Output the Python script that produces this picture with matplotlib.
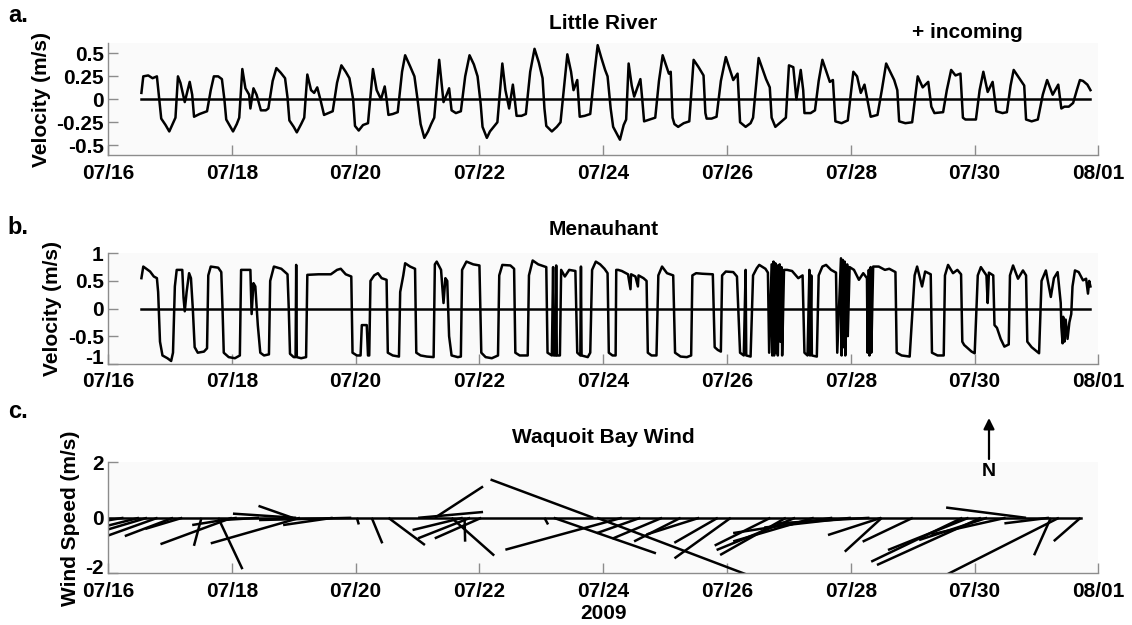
import matplotlib
matplotlib.use('Agg')
import matplotlib.pyplot as plt
import matplotlib.dates as mdates
import matplotlib.transforms as mtransforms
import numpy as np
import pandas as pd

plt.rcParams['font.family'] = ['Liberation Sans', 'DejaVu Sans']
plt.rcParams['font.weight'] = 'bold'
plt.rcParams['axes.unicode_minus'] = False

start = pd.Timestamp('2009-07-16')
tick_labels = ['07/16', '07/18', '07/20', '07/22', '07/24', '07/26', '07/28', '07/30', '08/01']

# Little River velocity (days since 07/16 00:00, m/s)
lr_day = [0.54, 0.57, 0.65, 0.72, 0.79, 0.82, 0.86, 0.93, 0.99, 1.05, 1.09, 1.13, 1.17, 1.24, 1.32, 1.36,
          1.39, 1.48, 1.60, 1.66, 1.71, 1.78, 1.84, 1.88, 1.91, 1.96, 2.02, 2.08, 2.12, 2.17, 2.22, 2.28,
          2.30, 2.35, 2.40, 2.47, 2.55, 2.59, 2.66, 2.72, 2.79, 2.86, 2.90, 2.93, 3.00, 3.05, 3.12, 3.17,
          3.22, 3.28, 3.33, 3.38, 3.43, 3.49, 3.56, 3.63, 3.70, 3.77, 3.84, 3.90, 3.96, 3.99, 4.05, 4.12,
          4.20, 4.28, 4.34, 4.41, 4.47, 4.50, 4.53, 4.60, 4.68, 4.75, 4.80, 4.88, 4.95, 5.00, 5.05, 5.11,
          5.17, 5.22, 5.27, 5.35, 5.42, 5.47, 5.51, 5.55, 5.62, 5.70, 5.77, 5.84, 5.91, 5.97, 6.02, 6.05,
          6.12, 6.17, 6.23, 6.29, 6.37, 6.42, 6.48, 6.54, 6.57, 6.60, 6.68, 6.75, 6.82, 6.89, 6.96, 7.02,
          7.05, 7.08, 7.17, 7.25, 7.31, 7.42, 7.48, 7.52, 7.58, 7.62, 7.70, 7.79, 7.86, 7.91, 7.97, 8.03,
          8.07, 8.12, 8.16, 8.27, 8.33, 8.37, 8.41, 8.46, 8.50, 8.60, 8.63, 8.66, 8.75, 8.84, 8.90, 8.96,
          9.06, 9.09, 9.12, 9.15, 9.21, 9.30, 9.39, 9.46, 9.54, 9.62, 9.65, 9.67, 9.75, 9.83, 9.90, 9.98,
          10.10, 10.17, 10.21, 10.30, 10.38, 10.42, 10.51, 10.63, 10.69, 10.72, 10.78, 10.90, 10.95, 11.00,
          11.07, 11.12, 11.19, 11.23, 11.25, 11.35, 11.42, 11.48, 11.54, 11.66, 11.71, 11.75, 11.85, 11.95,
          12.04, 12.10, 12.16, 12.22, 12.28, 12.32, 12.43, 12.50, 12.57, 12.70, 12.75, 12.78, 12.88, 12.99,
          13.08, 13.16, 13.25, 13.30, 13.35, 13.49, 13.55, 13.62, 13.69, 13.77, 13.81, 13.85, 14.02, 14.08,
          14.14, 14.21, 14.29, 14.35, 14.45, 14.52, 14.58, 14.63, 14.74, 14.80, 14.83, 14.92, 15.02, 15.10,
          15.17, 15.26, 15.35, 15.40, 15.45, 15.52, 15.59, 15.65, 15.70, 15.75, 15.82, 15.87]
lr_vel = [0.07, 0.25, 0.26, 0.23, 0.25, 0.05, -0.21, -0.28, -0.35, -0.26, -0.20, 0.25, 0.18, -0.03, 0.19, 0.05,
          -0.19, -0.16, -0.13, 0.10, 0.25, 0.25, 0.22, 0.00, -0.22, -0.28, -0.35, -0.27, -0.20, 0.33, 0.12, 0.05,
          -0.10, 0.12, 0.05, -0.12, -0.12, -0.10, 0.20, 0.34, 0.29, 0.23, 0.02, -0.23, -0.30, -0.36, -0.27, -0.20,
          0.27, 0.10, 0.07, 0.13, 0.00, -0.17, -0.15, -0.13, 0.18, 0.37, 0.30, 0.23, 0.00, -0.29, -0.34, -0.28,
          -0.26, 0.33, 0.10, 0.00, 0.14, 0.00, -0.17, -0.16, -0.14, 0.30, 0.48, 0.36, 0.25, 0.00, -0.27, -0.42,
          -0.35, -0.27, -0.20, 0.43, -0.03, 0.05, 0.12, -0.12, -0.15, -0.13, 0.25, 0.48, 0.38, 0.25, -0.05, -0.30,
          -0.42, -0.35, -0.30, -0.25, 0.39, 0.10, -0.10, 0.16, 0.00, -0.18, -0.18, -0.16, 0.30, 0.55, 0.40, 0.23,
          -0.10, -0.29, -0.35, -0.30, -0.25, 0.49, 0.30, 0.10, 0.21, -0.19, -0.18, -0.16, 0.30, 0.59, 0.45, 0.32,
          0.25, -0.10, -0.30, -0.44, -0.28, -0.22, 0.39, 0.15, 0.03, 0.22, 0.00, -0.24, -0.22, -0.20, 0.20, 0.48,
          0.28, 0.30, -0.20, -0.27, -0.30, -0.26, -0.24, 0.43, 0.35, 0.26, -0.15, -0.21, -0.21, -0.19, 0.20, 0.46,
          0.21, 0.28, -0.25, -0.30, -0.26, -0.20, 0.45, 0.22, 0.13, -0.20, -0.30, -0.23, -0.20, 0.37,
          0.35, 0.00, 0.32, 0.10, -0.15, -0.15, -0.12, 0.20, 0.43, 0.19, 0.21, -0.24, -0.26, -0.23,
          0.30, 0.25, 0.07, 0.16, -0.05, -0.19, -0.17, 0.10, 0.39, 0.21, 0.10, -0.24, -0.26, -0.25,
          0.25, 0.13, 0.19, -0.08, -0.15, -0.14, 0.10, 0.32, 0.26, 0.28, -0.20, -0.22, -0.22, 0.10,
          0.30, 0.08, 0.19, -0.13, -0.15, -0.14, 0.15, 0.32, 0.21, 0.15, -0.22, -0.24, -0.22, 0.05,
          0.21, 0.05, 0.16, -0.10, -0.08, -0.08, -0.04, 0.10, 0.21, 0.20, 0.16, 0.10]

# Menauhant velocity (days since 07/16 00:00, m/s)
mn_day = [0.54, 0.57, 0.62, 0.68, 0.74, 0.79, 0.81, 0.84, 0.88, 0.96, 1.02, 1.05, 1.08, 1.11, 1.20, 1.22,
          1.24, 1.27, 1.31, 1.34, 1.37, 1.40, 1.45, 1.55, 1.60, 1.62, 1.66, 1.78, 1.83, 1.85, 1.87, 1.95,
          2.05, 2.13, 2.15, 2.20, 2.30, 2.32, 2.35, 2.38, 2.42, 2.46, 2.52, 2.60, 2.62, 2.68, 2.80, 2.90,
          2.92, 2.94, 3.00, 3.03, 3.04, 3.05, 3.12, 3.20, 3.22, 3.40, 3.60, 3.70, 3.76, 3.84, 3.93, 3.95,
          4.02, 4.08, 4.10, 4.18, 4.20, 4.22, 4.24, 4.30, 4.36, 4.42, 4.50, 4.52, 4.60, 4.70, 4.72, 4.77,
          4.80, 4.88, 4.96, 4.98, 5.05, 5.15, 5.26, 5.28, 5.31, 5.38, 5.42, 5.45, 5.48, 5.51, 5.55, 5.65,
          5.70, 5.72, 5.79, 5.90, 6.00, 6.03, 6.10, 6.20, 6.30, 6.32, 6.37, 6.50, 6.56, 6.58, 6.65, 6.78,
          6.80, 6.86, 6.95, 7.08, 7.10, 7.17, 7.19, 7.20, 7.23, 7.24, 7.25, 7.30, 7.32, 7.38, 7.45, 7.55,
          7.58, 7.63, 7.64, 7.65, 7.75, 7.79, 7.82, 7.88, 7.95, 8.02, 8.07, 8.09, 8.15, 8.20, 8.21, 8.24,
          8.30, 8.40, 8.44, 8.45, 8.52, 8.56, 8.57, 8.65, 8.70, 8.72, 8.78, 8.86, 8.89, 8.95, 9.03, 9.13,
          9.16, 9.25, 9.35, 9.42, 9.44, 9.50, 9.60, 9.77, 9.80, 9.85, 9.90, 9.92, 9.98, 10.10, 10.16, 10.21,
          10.27, 10.30, 10.31, 10.38, 10.42, 10.48, 10.52, 10.62, 10.66, 10.68, 10.72, 10.73, 10.75, 10.76,
          10.78, 10.79, 10.81, 10.82, 10.85, 10.86, 10.88, 10.89, 10.92, 10.97, 11.05, 11.15, 11.22, 11.25,
          11.30, 11.33, 11.34, 11.36, 11.37, 11.45, 11.48, 11.54, 11.60, 11.68, 11.76, 11.78, 11.84, 11.85,
          11.87, 11.88, 11.90, 11.91, 11.94, 11.95, 11.98, 12.05, 12.13, 12.20, 12.26, 12.27, 12.29, 12.30,
          12.32, 12.33, 12.36, 12.45, 12.55, 12.62, 12.72, 12.74, 12.82, 12.95, 13.03, 13.07, 13.15, 13.20,
          13.29, 13.31, 13.40, 13.50, 13.52, 13.57, 13.65, 13.72, 13.78, 13.80, 13.83, 13.95, 14.00, 14.05,
          14.10, 14.19, 14.21, 14.23, 14.30, 14.32, 14.36, 14.42, 14.48, 14.55, 14.57, 14.62, 14.70, 14.78,
          14.83, 14.85, 14.92, 15.04, 15.08, 15.15, 15.23, 15.28, 15.34, 15.39, 15.40, 15.42, 15.43, 15.45,
          15.47, 15.50, 15.53, 15.56, 15.58, 15.62, 15.68, 15.75, 15.80, 15.83, 15.85, 15.87]
mn_vel = [0.55, 0.76, 0.72, 0.67, 0.58, 0.55, 0.30, -0.60, -0.85, -0.90, -0.95, -0.80, 0.40, 0.70, 0.70, 0.20,
          -0.05, 0.30, 0.64, 0.55, 0.00, -0.70, -0.80, -0.78, -0.72, 0.60, 0.76, 0.74, 0.66, 0.00, -0.80, -0.88,
          -0.90, -0.85, 0.70, 0.70, 0.70, -0.10, 0.46, 0.40, -0.30, -0.80, -0.85, -0.83, 0.50, 0.76, 0.72, 0.62,
          0.00, -0.82, -0.88, -0.88, 0.79, -0.88, -0.90, -0.88, 0.61, 0.62, 0.62, 0.70, 0.72, 0.62, 0.58, -0.80,
          -0.85, -0.85, -0.30, -0.30, -0.85, -0.85, 0.50, 0.60, 0.64, 0.55, 0.52, -0.80, -0.85, -0.87, 0.30, 0.60,
          0.82, 0.76, 0.72, -0.80, -0.85, -0.87, -0.88, 0.80, 0.85, 0.70, 0.10, 0.55, 0.50, -0.50, -0.85, -0.88,
          -0.87, 0.70, 0.85, 0.80, 0.78, -0.80, -0.88, -0.90, -0.85, 0.60, 0.79, 0.78, 0.72, -0.80, -0.85, -0.85,
          0.60, 0.87, 0.80, 0.75, -0.80, -0.85, 0.75, -0.85, -0.85, 0.78, -0.85, -0.85, 0.70, 0.58, 0.70, 0.68,
          -0.80, -0.85, 0.76, -0.85, -0.88, -0.80, 0.70, 0.85, 0.80, 0.72, 0.64, -0.80, -0.85, -0.85, 0.70, 0.70,
          0.68, 0.62, 0.35, 0.62, 0.58, 0.40, 0.60, 0.55, 0.50, -0.80, -0.85, -0.85, 0.60, 0.76, 0.64, 0.60,
          -0.80, -0.87, -0.88, -0.85, 0.60, 0.64, 0.63, 0.62, -0.70, -0.75, -0.78, 0.60, 0.67, 0.66, 0.58, -0.80,
          -0.85, 0.70, -0.85, -0.87, 0.60, 0.73, 0.79, 0.72, 0.65, -0.80, 0.80, -0.85, 0.85, -0.85,
          0.82, -0.80, 0.78, -0.85, 0.80, -0.60, 0.75, -0.85, 0.70, 0.70, 0.68, 0.55, 0.60, -0.80,
          -0.85, 0.70, -0.85, 0.60, -0.85, -0.87, 0.60, 0.76, 0.79, 0.70, 0.65, -0.80, 0.91, -0.85,
          0.88, -0.70, 0.85, -0.85, 0.80, -0.50, 0.75, 0.70, 0.52, 0.64, 0.55, -0.80, 0.70, -0.85,
          0.75, -0.80, 0.76, 0.76, 0.70, 0.72, 0.66, -0.80, -0.85, -0.87, 0.60, 0.76, 0.40, 0.67,
          0.62, -0.80, -0.85, -0.85, 0.60, 0.79, 0.64, 0.70, 0.62, -0.60, -0.66, -0.78, -0.81, 0.60,
          0.75, 0.60, 0.10, 0.65, 0.60, -0.30, -0.35, -0.55, -0.69, -0.65, 0.60, 0.78, 0.54, 0.69,
          0.60, -0.60, -0.70, -0.81, 0.50, 0.69, 0.21, 0.55, 0.66, 0.10, -0.33, -0.63, -0.15, -0.60,
          -0.20, -0.55, -0.25, -0.10, 0.40, 0.69, 0.66, 0.51, 0.54, 0.27, 0.50, 0.40]

# Waquoit Bay wind sticks: origin time (days since 07/16), east and north components (m/s)
wind_day = [0.25, 0.50, 0.63, 0.80, 1.05, 1.20, 1.51, 1.78, 2.00, 2.08, 2.44, 2.98, 3.04, 3.10, 3.63, 3.93,
            4.02, 4.26, 4.53, 5.01, 5.28, 5.55, 5.73, 5.76, 5.85, 6.03, 7.05, 7.20, 7.84, 7.90, 8.30, 8.60,
            8.95, 9.25, 9.55, 9.85, 10.06, 10.70, 10.95, 11.10, 11.40, 11.70, 12.00, 12.30, 12.49, 12.50,
            13.00, 13.80, 13.90, 14.10, 14.20, 14.50, 14.83, 15.20, 15.23, 15.36, 15.71]
wind_u = [-1.22, -1.78, -2.07, -2.00, -1.73, -1.33, -0.27, 0.87, -2.56, -1.60, -1.33, -1.22, -2.27, -3.20, -1.78, -3.31,
          0.07, 0.38, 1.31, 2.33, 1.73, 1.53, -1.80, 0.02, -1.87, -1.67, 0.13, 3.67, -3.69, 5.78, -4.18, -1.56,
          -1.78, -1.67, -1.89, -1.56, -2.02, -2.00, -2.36, -2.82, -2.89, -3.56, -3.11, -3.33, -1.91, -1.33,
          -1.80, -3.27, -2.89, -3.73, -2.44, -2.67, -2.87, -1.60, -0.60, -4.33, -0.96]
wind_v = [-0.20, -0.45, -0.62, -0.72, -0.66, -0.40, -1.01, -1.85, -0.95, -0.26, -0.08, 0.43, 0.15, -0.92, -0.26, -0.08,
          -0.24, -0.92, -0.98, 0.21, 1.13, -1.36, -0.44, -0.86, -0.74, -0.74, -0.24, -1.28, 1.38, -2.20, -1.15, -0.55,
          -0.75, -0.85, -0.60, -0.90, -1.46, -1.00, -1.34, -1.16, -0.85, -0.55, -0.35, -0.20, -0.62, -1.22,
          -0.86, -1.58, -1.16, -1.70, -0.80, -0.60, 0.37, -0.20, -1.35, -2.20, -0.84]
stick_scale = 0.45  # days of time axis per m/s of east wind


def to_num(days):
    return mdates.date2num(start + pd.to_timedelta(np.asarray(days, dtype=float), unit='D'))


fig = plt.figure(figsize=(11.32, 6.25), dpi=100)
ax_a = fig.add_axes([0.0954, 0.7515, 0.875, 0.1792])
ax_b = fig.add_axes([0.0954, 0.418, 0.875, 0.1767])
ax_c = fig.add_axes([0.0954, 0.0827, 0.875, 0.1776])

ticks = to_num(np.arange(0, 17, 2))
for ax in (ax_a, ax_b, ax_c):
    ax.set_facecolor('#fafafa')
    for s in ('top', 'right'):
        ax.spines[s].set_visible(False)
    for s in ('left', 'bottom'):
        ax.spines[s].set_color('#8c8c8c')
        ax.spines[s].set_linewidth(1.0)
    ax.tick_params(direction='in', length=7, width=1, color='#8c8c8c', labelsize=15)
    ax.tick_params(axis='x', pad=6)
    ax.tick_params(axis='y', pad=3)
    ax.set_xlim(ticks[0], ticks[-1])
    ax.set_xticks(ticks)
    ax.set_xticklabels(tick_labels, fontweight='bold')

# a. Little River
t = to_num(lr_day)
ax_a.plot(t, lr_vel, color='black', lw=1.8)
ax_a.plot([t[0], t[-1]], [0, 0], color='black', lw=1.8)
ax_a.set_ylim(-0.61, 0.61)
ax_a.set_yticks([-0.5, -0.25, 0, 0.25, 0.5])
ax_a.set_yticklabels(['-0.5', '-0.25', '0', '0.25', '0.5'], fontweight='bold')
ax_a.set_ylabel('Velocity (m/s)', fontsize=15, fontweight='bold', labelpad=4)
ax_a.set_title('Little River', fontsize=15, fontweight='bold', pad=10)

# b. Menauhant
t = to_num(mn_day)
ax_b.plot(t, mn_vel, color='black', lw=1.8)
ax_b.plot([t[0], t[-1]], [0, 0], color='black', lw=1.8)
ax_b.set_ylim(-1, 1)
ax_b.set_yticks([-1, -0.5, 0, 0.5, 1])
ax_b.set_yticklabels(['-1', '-0.5', '0', '0.5', '1'], fontweight='bold')
ax_b.set_ylabel('Velocity (m/s)', fontsize=15, fontweight='bold', labelpad=4)
ax_b.set_title('Menauhant', fontsize=15, fontweight='bold', pad=13)

# c. wind sticks
t0 = to_num(wind_day)
tip_x = t0 + np.asarray(wind_u) * stick_scale
for x0, x1, v in zip(t0, tip_x, wind_v):
    ax_c.plot([x0, x1], [0, v], color='black', lw=1.8, solid_capstyle='butt')
ax_c.plot([ticks[0], t0.max()], [0, 0], color='black', lw=1.8)
ax_c.set_ylim(-2, 2)
ax_c.set_yticks([-2, 0, 2])
ax_c.set_yticklabels(['-2', '0', '2'], fontweight='bold')
ax_c.set_ylabel('Wind Speed (m/s)', fontsize=15, fontweight='bold', labelpad=4)
ax_c.set_title('Waquoit Bay Wind', fontsize=15, fontweight='bold', pad=14)
ax_c.text(to_num(8), -0.36, '2009', transform=ax_c.get_xaxis_transform(),
          ha='center', va='center', fontsize=15, fontweight='bold')

# lift the lowest y label of b and c a little so it sits just above the date labels
lift = mtransforms.ScaledTranslation(0, 5 / 72, fig.dpi_scale_trans)
for ax in (ax_b, ax_c):
    fig.canvas.draw()
    lab = ax.get_yticklabels()[0]
    lab.set_transform(lab.get_transform() + lift)

# annotations
fig.text(18 / 1132, 1 - 15 / 625, 'a.', fontsize=17, fontweight='bold', ha='center', va='center')
fig.text(18 / 1132, 1 - 228 / 625, 'b.', fontsize=17, fontweight='bold', ha='center', va='center')
fig.text(18 / 1132, 1 - 412 / 625, 'c.', fontsize=17, fontweight='bold', ha='center', va='center')
fig.text(912 / 1132, 1 - 33 / 625, '+ incoming', fontsize=15, fontweight='bold', ha='left', va='center')
fig.text(989 / 1132, 1 - 471 / 625, 'N', fontsize=14, fontweight='bold', ha='center', va='center')
fig.add_artist(plt.Annotation('', xy=(989 / 1132, 1 - 418 / 625), xytext=(989 / 1132, 1 - 459 / 625),
                              xycoords='figure fraction', textcoords='figure fraction',
                              arrowprops=dict(arrowstyle='-|>', color='black', lw=1.6,
                                              mutation_scale=16, shrinkA=0, shrinkB=0)))

fig.savefig('out.png', dpi=100)
